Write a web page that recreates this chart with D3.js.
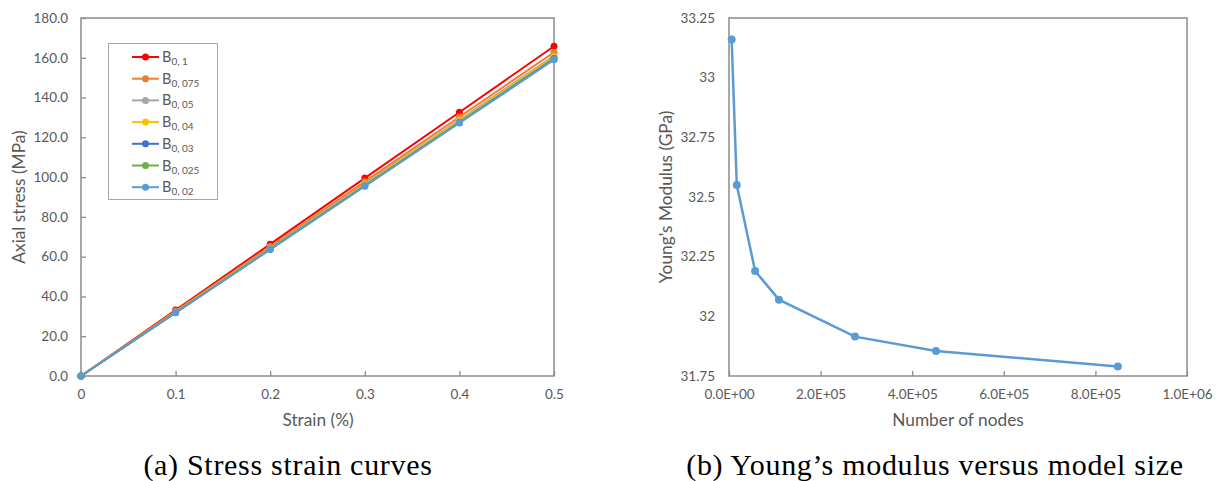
<!DOCTYPE html>
<html>
<head>
<meta charset="utf-8">
<script src="https://cdn.jsdelivr.net/npm/d3@7"></script>
<style>
  body { margin: 0; background: #fff; }
  text { font-family: Lato, "Open Sans", sans-serif; }
  .tick text { fill: #595959; font-size: 13.5px; }
  .axis-title { fill: #595959; font-size: 17.3px; }
  .caption { font-family: "Liberation Serif", "DejaVu Serif", serif; font-size: 30px; letter-spacing: 0.7px; fill: #000; }
</style>
</head>
<body>
<svg width="1219" height="481"></svg>
<script>
// ---- left chart data (strain %, axial stress MPa) ----
var strain = [0, 0.1, 0.2, 0.3, 0.4, 0.5];
var seriesNames = ["0, 1", "0, 075", "0, 05", "0, 04", "0, 03", "0, 025", "0, 02"];
var seriesColors = ["#FF0000", "#ED7D31", "#A5A5A5", "#FFC000", "#4472C4", "#70AD47", "#5B9BD5"];
var b01   = [0, 33.2, 66.3, 99.5, 132.6, 165.8];
var b0075 = [0, 32.6, 65.1, 97.7, 130.2, 162.8];
var b005  = [0, 32.2, 64.4, 96.6, 128.8, 161.0];
var b004  = [0, 32.1, 64.1, 96.2, 128.3, 160.4];
var b003  = [0, 31.9, 63.8, 95.7, 127.6, 159.6];
var b0025 = [0, 31.9, 63.7, 95.6, 127.4, 159.3];
var b002  = [0, 31.8, 63.6, 95.4, 127.2, 159.0];
var stressSeries = [b01, b0075, b005, b004, b003, b0025, b002];
var stressTicks = [0, 20, 40, 60, 80, 100, 120, 140, 160, 180];
var strainTicks = [0, 0.1, 0.2, 0.3, 0.4, 0.5];

// ---- right chart data ----
var nodes   = [5800, 17000, 57000, 109000, 275000, 452000, 849000];
var modulus = [33.16, 32.55, 32.19, 32.07, 31.915, 31.855, 31.79];
var modulusTicks = [31.75, 32, 32.25, 32.5, 32.75, 33, 33.25];
var nodeTicks = [0, 200000, 400000, 600000, 800000, 1000000];

var svg = d3.select("svg");
var frameColor = "#8c8c8c";

function frame(g, x0, x1, y0, y1) {
  g.append("rect")
    .attr("x", x0).attr("y", y0)
    .attr("width", x1 - x0).attr("height", y1 - y0)
    .attr("fill", "none")
    .attr("stroke", frameColor)
    .attr("stroke-width", 1.5);
}

function styleAxis(ax) {
  ax.select(".domain").remove();
  ax.selectAll(".tick line").attr("stroke", frameColor).attr("stroke-width", 1.3);
}

// ================= left chart =================
var L = {left: 81, right: 554, top: 18, bottom: 376};
var x1 = d3.scaleLinear().domain([0, 0.5]).range([L.left, L.right]);
var y1 = d3.scaleLinear().domain([0, 180]).range([L.bottom, L.top]);

var gl = svg.append("g");

gl.append("g")
  .attr("transform", "translate(0," + L.bottom + ")")
  .call(d3.axisBottom(x1).tickValues(strainTicks).tickSizeInner(-5).tickPadding(13)
    .tickFormat(function(d) { return d === 0 ? "0" : d3.format(".1f")(d); }))
  .call(styleAxis)
  .selectAll(".tick text").attr("dy", "0.71em");

gl.append("g")
  .attr("transform", "translate(" + L.left + ",0)")
  .call(d3.axisLeft(y1).tickValues(stressTicks).tickSizeInner(-5).tickPadding(13)
    .tickFormat(d3.format(".1f")))
  .call(styleAxis);

frame(gl, L.left, L.right, L.top, L.bottom);

var line1 = d3.line()
  .x(function(d, i) { return x1(strain[i]); })
  .y(function(d) { return y1(d); });

stressSeries.forEach(function(s, k) {
  var g = gl.append("g");
  g.append("path")
    .datum(s)
    .attr("d", line1)
    .attr("fill", "none")
    .attr("stroke", seriesColors[k])
    .attr("stroke-width", 2);
  g.selectAll("circle")
    .data(s)
    .enter().append("circle")
      .attr("cx", function(d, i) { return x1(strain[i]); })
      .attr("cy", function(d) { return y1(d); })
      .attr("r", 3.5)
      .attr("fill", seriesColors[k]);
});

// legend
var leg = gl.append("g");
leg.append("rect")
  .attr("x", 108.5).attr("y", 43.5)
  .attr("width", 109).attr("height", 156)
  .attr("fill", "#fff")
  .attr("stroke", "#a6a6a6")
  .attr("stroke-width", 1);

seriesNames.forEach(function(name, k) {
  var yy = 57 + k * 21.7;
  leg.append("line")
    .attr("x1", 132).attr("x2", 159)
    .attr("y1", yy).attr("y2", yy)
    .attr("stroke", seriesColors[k])
    .attr("stroke-width", 2);
  leg.append("circle")
    .attr("cx", 145.5).attr("cy", yy).attr("r", 3.5)
    .attr("fill", seriesColors[k]);
  var t = leg.append("text")
    .attr("x", 162).attr("y", yy + 5)
    .attr("fill", "#595959")
    .style("font-size", "14.5px");
  t.append("tspan").text("B");
  t.append("tspan").attr("dy", 3).style("font-size", "10px").text(name);
});

gl.append("text")
  .attr("class", "axis-title")
  .attr("x", 318).attr("y", 426)
  .attr("text-anchor", "middle")
  .text("Strain (%)");

gl.append("text")
  .attr("class", "axis-title")
  .attr("transform", "translate(25," + (L.top + L.bottom) / 2 + ") rotate(-90)")
  .attr("text-anchor", "middle")
  .text("Axial stress (MPa)");

gl.append("text")
  .attr("class", "caption")
  .attr("x", 288).attr("y", 475)
  .attr("text-anchor", "middle")
  .text("(a) Stress strain curves");

// ================= right chart =================
var R = {left: 729, right: 1187, top: 18, bottom: 376};
var x2 = d3.scaleLinear().domain([0, 1000000]).range([R.left, R.right]);
var y2 = d3.scaleLinear().domain([31.75, 33.25]).range([R.bottom, R.top]);

var gr = svg.append("g");

gr.append("g")
  .attr("transform", "translate(0," + R.bottom + ")")
  .call(d3.axisBottom(x2).tickValues(nodeTicks).tickSizeInner(-5).tickPadding(13)
    .tickFormat(function(d) {
      var e = d === 0 ? 0 : Math.floor(Math.log10(d));
      var m = d / Math.pow(10, e);
      return m.toFixed(1) + "E+" + (e < 10 ? "0" + e : e);
    }))
  .call(styleAxis)
  .selectAll(".tick text").attr("dy", "0.71em");

gr.append("g")
  .attr("transform", "translate(" + R.left + ",0)")
  .call(d3.axisLeft(y2).tickValues(modulusTicks).tickSize(0).tickPadding(14)
    .tickFormat(function(d) { return String(d); }))
  .call(styleAxis);

frame(gr, R.left, R.right, R.top, R.bottom);

var line2 = d3.line()
  .x(function(d, i) { return x2(nodes[i]); })
  .y(function(d) { return y2(d); });

gr.append("path")
  .datum(modulus)
  .attr("d", line2)
  .attr("fill", "none")
  .attr("stroke", "#5B9BD5")
  .attr("stroke-width", 2.5);

gr.selectAll("circle.pt")
  .data(modulus)
  .enter().append("circle")
    .attr("class", "pt")
    .attr("cx", function(d, i) { return x2(nodes[i]); })
    .attr("cy", function(d) { return y2(d); })
    .attr("r", 4)
    .attr("fill", "#5B9BD5");

gr.append("text")
  .attr("class", "axis-title")
  .attr("x", 958).attr("y", 426)
  .attr("text-anchor", "middle")
  .text("Number of nodes");

gr.append("text")
  .attr("class", "axis-title")
  .attr("transform", "translate(672," + (R.top + R.bottom) / 2 + ") rotate(-90)")
  .attr("text-anchor", "middle")
  .text("Young's Modulus (GPa)");

gr.append("text")
  .attr("class", "caption")
  .attr("x", 935).attr("y", 475)
  .attr("text-anchor", "middle")
  .text("(b) Young\u2019s modulus versus model size");
</script>
</body>
</html>
